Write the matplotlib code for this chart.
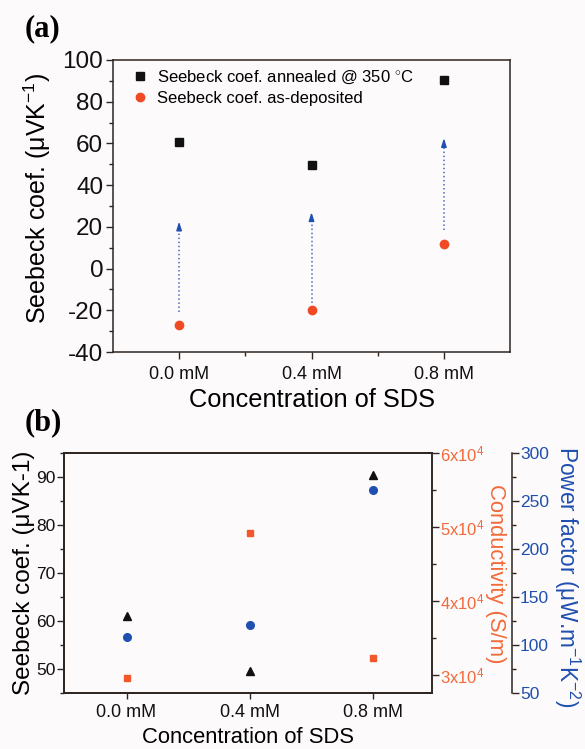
import matplotlib
matplotlib.use("Agg")
import matplotlib.pyplot as plt
from matplotlib.ticker import MultipleLocator, FixedLocator, FuncFormatter

plt.rcParams['font.family'] = ['Liberation Sans', 'DejaVu Sans']
plt.rcParams['mathtext.fontset'] = 'custom'
plt.rcParams['mathtext.rm'] = 'Liberation Sans'
plt.rcParams['mathtext.it'] = 'Liberation Sans'
plt.rcParams['axes.unicode_minus'] = False

# ---- data ----
categories = ["0.0 mM", "0.4 mM", "0.8 mM"]
seebeck_annealed = [60.5, 49.5, 90.5]
seebeck_asdep = [-27.0, -20.0, 12.0]
arrow_start = [-21.0, -16.5, 18.5]
arrow_end = [22.5, 27.0, 62.5]

seebeck_b = [61.0, 49.5, 90.5]
conductivity = [2.95e4, 4.92e4, 3.23e4]
power_factor = [108.5, 120.5, 261.5]

BLACK = '#111111'
RED = '#f04a25'
ORANGE = '#f2582c'
ORANGE_T = '#f26a3a'
BLUE = '#1f4fb0'
ARROW = '#3a6fd0'
SPINE = '#2e2420'
BG = '#fcfafa'

fig = plt.figure(figsize=(5.85, 7.49), dpi=100, facecolor=BG)

# ---------------- panel (a) ----------------
axa = fig.add_axes([0.193, 0.530, 0.679, 0.390])
axa.set_facecolor(BG)
x = list(range(len(categories)))
axa.plot(x, seebeck_annealed, linestyle='none', marker='s', ms=5.2, color=BLACK,
         label='Seebeck coef. annealed @ 350 $^{\\circ}$C')
axa.plot(x, seebeck_asdep, linestyle='none', marker='o', ms=6, color=RED, mec=RED,
         label='Seebeck coef. as-deposited')
for xi, y0, y1 in zip(x, arrow_start, arrow_end):
    axa.plot([xi, xi], [y0, y1 - 3], linestyle=':', color=ARROW, lw=1.1)
    axa.annotate('', xy=(xi, y1), xytext=(xi, y1 - 3.5),
                 arrowprops=dict(arrowstyle='-|>,head_length=0.5,head_width=0.16',
                                 color='#1f4fb0', lw=1.0, shrinkA=0, shrinkB=0))
axa.set_xlim(-0.5, 2.5)
axa.set_ylim(-40, 100)
axa.xaxis.set_major_locator(FixedLocator(x))
axa.set_xticklabels(categories)
axa.xaxis.set_minor_locator(FixedLocator([0.5, 1.5]))
axa.yaxis.set_major_locator(MultipleLocator(20))
axa.yaxis.set_minor_locator(MultipleLocator(10))
axa.tick_params(axis='both', which='major', direction='out', length=5, width=1, colors=SPINE)
axa.tick_params(axis='both', which='minor', direction='out', length=3, width=1, colors=SPINE)
axa.tick_params(axis='y', labelsize=17.5, labelcolor=BLACK, pad=2)
axa.tick_params(axis='x', labelsize=13, labelcolor=BLACK, pad=5)
for s in axa.spines.values():
    s.set_color(SPINE)
    s.set_linewidth(1.1)
axa.set_xlabel('Concentration of SDS', fontsize=18.3, labelpad=4)
axa.set_ylabel('Seebeck coef. (μVK$^{-1}$)', fontsize=18)
axa.yaxis.set_label_coords(-0.151, 0.527)
leg = axa.legend(loc='upper left', bbox_to_anchor=(0.018, 1.005), frameon=False,
                 fontsize=12, handletextpad=0.4,
                 borderaxespad=0.2, labelspacing=0.3, handlelength=1.2)

fig.text(0.042, 0.961, '(a)', fontsize=22, fontweight='bold',
         family='Liberation Serif', ha='left', va='center')

# ---------------- panel (b) ----------------
axb = fig.add_axes([0.109, 0.0748, 0.629, 0.3202])
axb.set_facecolor(BG)
axb.plot(x, seebeck_b, linestyle='none', marker='^', ms=6, color=BLACK)
axb.set_xlim(-0.51, 2.48)
axb.set_ylim(45, 95)
axb.xaxis.set_major_locator(FixedLocator(x))
axb.set_xticklabels(categories)
axb.yaxis.set_major_locator(MultipleLocator(10))
axb.yaxis.set_minor_locator(MultipleLocator(5))
axb.tick_params(axis='x', which='major', direction='out', length=4, width=1,
                colors=SPINE, labelcolor=BLACK, labelsize=13, pad=4)
axb.tick_params(axis='y', which='major', direction='out', length=5, width=1,
                colors=SPINE, labelcolor=BLACK, labelsize=12.5, pad=1)
axb.tick_params(axis='y', which='minor', direction='out', length=3, width=1, colors=SPINE)
for s in axb.spines.values():
    s.set_color(SPINE)
    s.set_linewidth(1.1)
axb.set_xlabel('Concentration of SDS', fontsize=15.8, labelpad=4.5)
axb.set_ylabel('Seebeck coef. (μVK-1)', fontsize=17.5, labelpad=1)

# conductivity axis
axc = axb.twinx()
axc.plot(x, conductivity, linestyle='none', marker='s', ms=5, color=ORANGE)
axc.set_ylim(2.753e4, 6.0e4)
axc.yaxis.set_major_locator(MultipleLocator(1e4))
axc.yaxis.set_minor_locator(MultipleLocator(0.5e4))
axc.yaxis.set_major_formatter(FuncFormatter(lambda v, p: '%dx10$^{4}$' % round(v / 1e4)))
axc.tick_params(axis='y', which='major', direction='out', length=5, width=1,
                colors=SPINE, labelcolor=ORANGE_T, labelsize=12, pad=1)
axc.tick_params(axis='y', which='minor', direction='out', length=3, width=1, colors=SPINE)
for s in axc.spines.values():
    s.set_color(SPINE)
    s.set_linewidth(1.1)
axc.set_ylabel('Conductivity (S/m)', fontsize=15.8, color=ORANGE_T, rotation=270,
               va='bottom')
axc.yaxis.set_label_coords(1.146, 0.496)

# power factor axis
axp = axb.twinx()
axp.spines['right'].set_position(('axes', 1.217))
axp.plot(x, power_factor, linestyle='none', marker='o', ms=5.5, color=BLUE)
axp.set_ylim(50, 300)
axp.yaxis.set_major_locator(MultipleLocator(50))
axp.yaxis.set_minor_locator(MultipleLocator(25))
axp.tick_params(axis='y', which='major', direction='out', length=5, width=1,
                colors=SPINE, labelcolor=BLUE, labelsize=12.5, pad=1)
axp.tick_params(axis='y', which='minor', direction='out', length=3, width=1, colors=SPINE)
for s in axp.spines.values():
    s.set_color(SPINE)
    s.set_linewidth(1.1)
axp.set_ylabel('Power factor (μW.m$^{-1}$K$^{-2}$)', fontsize=16.3, color=BLUE,
               rotation=270, va='bottom')
axp.yaxis.set_label_coords(1.326, 0.483)

fig.text(0.042, 0.435, '(b)', fontsize=22, fontweight='bold',
         family='Liberation Serif', ha='left', va='center')

fig.savefig('out.png', dpi=100, facecolor=BG)
